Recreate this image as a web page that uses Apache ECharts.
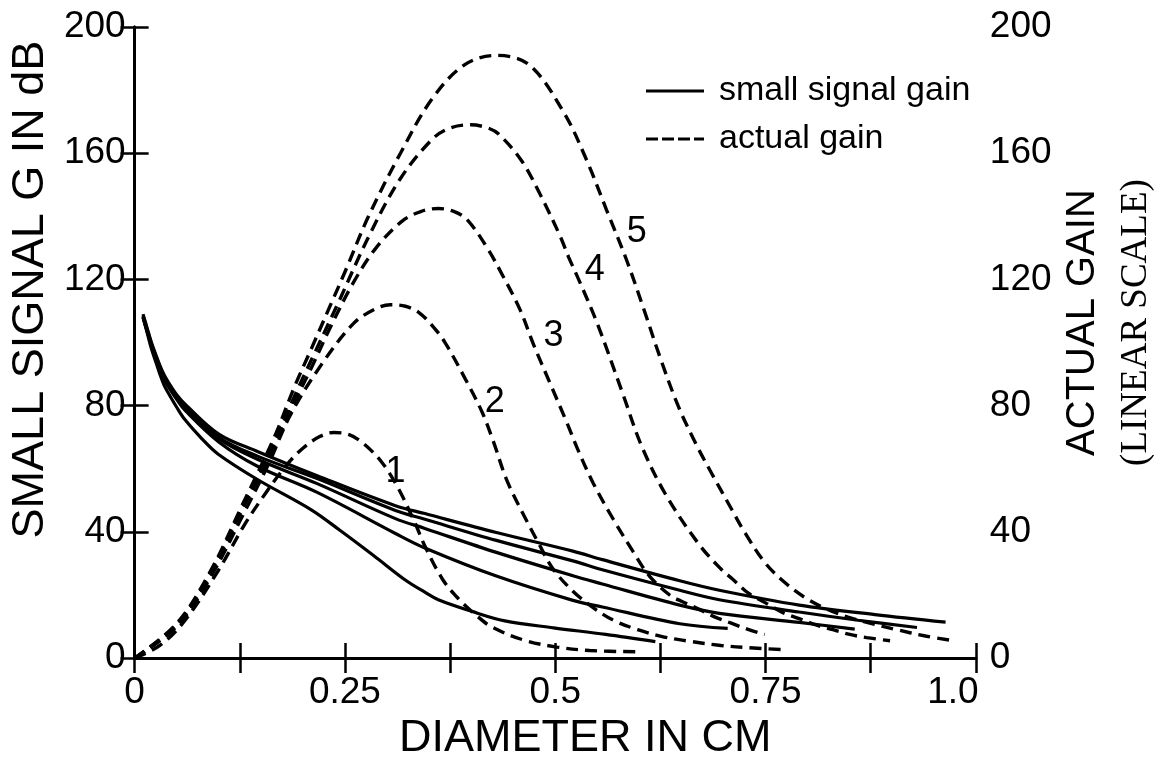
<!DOCTYPE html>
<html>
<head>
<meta charset="utf-8">
<script src="https://cdn.jsdelivr.net/npm/echarts@6/dist/echarts.min.js"></script>
<style>
  html, body { margin: 0; padding: 0; background: #ffffff; }
  #chart { width: 1163px; height: 766px; }
</style>
</head>
<body>
<div id="chart"></div>
<script>
// ---------- data ----------
const xTickValues = [0, 0.25, 0.5, 0.75, 1.0];
const xTickLabels = ['0', '0.25', '0.5', '0.75', '1.0'];

// small signal gain (solid), from lowest to highest curve
const small1 = [[0.01,108],[0.015,103],[0.02,98],[0.025,94],[0.03,90],[0.035,86.5],[0.04,84],[0.05,79.5],[0.06,75.5],[0.08,69.5],[0.099,64.7],[0.146,56.6],[0.21,47],[0.244,40.5],[0.284,32.5],[0.323,24.5],[0.345,20.9],[0.361,18.5],[0.401,14.8],[0.44,11.8],[0.498,9.6],[0.56,7.5],[0.619,5.2]];
const small2 = [[0.01,108],[0.015,103.5],[0.02,99],[0.025,95],[0.03,91.5],[0.035,88.5],[0.04,86],[0.05,82],[0.06,78.5],[0.1,68.5],[0.146,60.8],[0.217,52.5],[0.31,39.5],[0.345,34.9],[0.43,26],[0.521,18.3],[0.556,16.2],[0.648,10.9],[0.705,9.4]];
const small3 = [[0.01,108],[0.015,103.5],[0.02,99],[0.025,95.5],[0.03,92],[0.035,89],[0.04,86.5],[0.05,82.5],[0.06,79.5],[0.1,69.5],[0.146,63],[0.217,55.3],[0.31,44.2],[0.345,41.1],[0.43,33.5],[0.521,26.1],[0.556,23.5],[0.648,16.8],[0.695,14.2],[0.79,11.3],[0.856,9.2]];
const small4 = [[0.01,108.5],[0.015,104],[0.02,99.5],[0.025,95.8],[0.03,92.3],[0.035,89.3],[0.04,87],[0.05,83],[0.06,80],[0.1,70],[0.146,64],[0.217,56.9],[0.31,46.8],[0.345,44],[0.43,37.3],[0.521,30.8],[0.556,28],[0.648,21.5],[0.695,18.5],[0.79,14.6],[0.86,12],[0.93,9.7]];
const small5 = [[0.01,109],[0.015,104.5],[0.02,100],[0.025,96.3],[0.03,92.8],[0.035,89.8],[0.04,87.5],[0.05,83.5],[0.06,80.5],[0.1,71],[0.146,65.5],[0.217,57.8],[0.31,48.3],[0.345,45.8],[0.43,39.8],[0.521,33.9],[0.556,31.2],[0.648,24.5],[0.695,21.5],[0.79,16.8],[0.88,13.8],[0.964,11.4]];

// actual gain (dashed), curves 1..5
const actual1 = [[0,0],[0.03,4],[0.06,12],[0.1,28],[0.13,42],[0.155,52],[0.18,61],[0.2,66.5],[0.22,70.2],[0.237,71.5],[0.255,70.8],[0.272,68],[0.294,62],[0.313,54],[0.333,43],[0.345,35.5],[0.366,25],[0.385,18.8],[0.405,13.8],[0.425,9.8],[0.464,5.6],[0.502,3.5],[0.541,2.4],[0.6,2]];
const actual2 = [[0,0],[0.05,10],[0.09,25.5],[0.13,46],[0.16,62],[0.185,77],[0.222,93],[0.26,106],[0.285,110.5],[0.304,112],[0.322,111.5],[0.338,109.5],[0.355,105],[0.369,100],[0.393,88.5],[0.413,78],[0.426,69],[0.443,56],[0.467,43],[0.479,37],[0.497,28.4],[0.521,21.2],[0.545,16],[0.569,12],[0.598,9],[0.626,6.9],[0.658,5.4],[0.697,4],[0.73,3.3],[0.77,2.7]];
const actual3 = [[0,0],[0.05,10.5],[0.09,26.5],[0.127,46.5],[0.166,67],[0.19,81],[0.211,92.5],[0.233,105],[0.26,119],[0.287,130],[0.318,138.5],[0.34,141.5],[0.361,142.5],[0.38,141.5],[0.395,139],[0.418,130.5],[0.437,121.5],[0.458,110.5],[0.474,99.5],[0.494,87],[0.514,74.5],[0.527,66],[0.545,55.5],[0.569,44],[0.592,34],[0.612,26],[0.636,20],[0.65,18],[0.67,15.6],[0.69,13],[0.71,11],[0.73,9],[0.749,7.5]];
const actual4 = [[0,0],[0.05,10.5],[0.09,27],[0.127,47],[0.166,68],[0.19,83],[0.211,95],[0.241,112],[0.279,134],[0.316,152],[0.354,164.5],[0.375,168],[0.399,169],[0.42,168],[0.433,166],[0.46,157.6],[0.482,147],[0.506,133.6],[0.516,127],[0.527,120.5],[0.55,106],[0.58,84],[0.603,67],[0.632,51.5],[0.671,36],[0.696,28.5],[0.711,25],[0.73,20.5],[0.75,17.5],[0.77,14.5],[0.79,12.5],[0.81,10.5],[0.83,9],[0.85,7.5],[0.87,6.5],[0.898,5.5]];
const actual5 = [[0,0],[0.05,11],[0.09,27.5],[0.127,48],[0.166,70],[0.19,86],[0.21,98],[0.233,112],[0.251,123],[0.278,140],[0.316,160],[0.353,177],[0.392,188],[0.43,191],[0.469,188],[0.51,173],[0.537,158],[0.561,142],[0.585,126],[0.606,110],[0.625,95],[0.646,80],[0.667,68],[0.686,58.5],[0.71,47],[0.726,39.5],[0.75,30],[0.775,23.5],[0.798,19],[0.823,15.5],[0.848,13],[0.875,11],[0.906,9],[0.94,7],[0.976,5.4]];

// curve number labels
const curveLabelNames = ['1', '2', '3', '4', '5'];
const curveLabelX = [0.31, 0.428, 0.498, 0.547, 0.597];
const curveLabelY = [59, 81, 102, 123, 135];

// ---------- chart ----------
const FONT = '"Liberation Sans", Arial, sans-serif';
const SERIF = '"Liberation Serif", "DejaVu Serif", serif';
const smallSets = [small1, small2, small3, small4, small5];
const actualSets = [actual1, actual2, actual3, actual4, actual5];
const SOLID_ICON = 'path://M0,0H58V3H0Z';
const DASH_ICON = 'path://M0,0H12V3H0Z M16,0H28V3H16Z M32,0H44V3H32Z M48,0H58V3H48Z';

const series = [];
smallSets.forEach(function (d) {
  series.push({
    name: 'small signal gain', type: 'line', data: d, xAxisIndex: 0, yAxisIndex: 0,
    showSymbol: false, symbol: 'none', smooth: 0.35,
    lineStyle: { color: '#000', width: 3.2, type: 'solid' }, itemStyle: { color: '#000' },
    silent: true, z: 3
  });
});
actualSets.forEach(function (d) {
  series.push({
    name: 'actual gain', type: 'line', data: d, xAxisIndex: 0, yAxisIndex: 1,
    showSymbol: false, symbol: 'none', smooth: 0.35,
    lineStyle: { color: '#000', width: 3.4, type: [12, 7] }, itemStyle: { color: '#000' },
    silent: true, z: 3
  });
});
series.push({
  name: 'curve labels', type: 'scatter', xAxisIndex: 0, yAxisIndex: 0,
  data: curveLabelNames.map(function (n, i) { return { name: n, value: [curveLabelX[i], curveLabelY[i]] }; }),
  symbolSize: 0, itemStyle: { color: '#000', opacity: 1 }, silent: true, z: 5,
  label: { show: true, position: 'inside', formatter: '{b}', fontFamily: FONT, fontSize: 36,
           color: '#000', opacity: 1, textBorderWidth: 0, textShadowBlur: 0 }
});

const axisLineStyle = { color: '#000', width: 3 };
const tickStyle = { color: '#000', width: 2.5 };

const option = {
  animation: false,
  backgroundColor: '#ffffff',
  grid: { left: 126, right: 180, top: 27, bottom: 98, containLabel: false },
  legend: {
    data: [
      { name: 'small signal gain', icon: SOLID_ICON },
      { name: 'actual gain', icon: DASH_ICON }
    ],
    orient: 'vertical', left: 641, top: 69,
    itemWidth: 58, itemHeight: 3, itemGap: 14,
    itemStyle: { color: '#000', borderWidth: 0 },
    textStyle: { fontFamily: FONT, fontSize: 34, color: '#000', padding: [0, 0, 0, 10] },
    selectedMode: false
  },
  xAxis: [{
    type: 'value', position: 'bottom', min: 0, max: 1, interval: 0.125,
    name: 'DIAMETER IN CM', nameLocation: 'middle', nameGap: 46,
    nameTextStyle: { fontFamily: FONT, fontSize: 45, color: '#000', padding: [0, 0, 0, 60] },
    axisLine: { show: true, lineStyle: axisLineStyle },
    axisTick: { show: true, inside: true, length: 15, lineStyle: tickStyle },
    axisLabel: {
      show: true, margin: 16, fontFamily: FONT, fontSize: 37, color: '#000', showMaxLabel: true, showMinLabel: true,
      formatter: function (v) {
        for (let i = 0; i < xTickValues.length; i++) {
          if (Math.abs(v - xTickValues[i]) < 1e-6) {
            if (i === xTickValues.length - 1) return '{last|' + xTickLabels[i] + '}';
            return xTickLabels[i];
          }
        }
        return '';
      },
      rich: { last: { fontFamily: FONT, fontSize: 37, color: '#000', padding: [0, 46, 0, 0] } }
    },
    splitLine: { show: false }
  }, {
    type: 'value', position: 'top', min: 0, max: 1, interval: 0.125,
    axisLine: { show: true, lineStyle: axisLineStyle },
    axisTick: { show: true, inside: true, length: 15, lineStyle: tickStyle },
    axisLabel: { show: false },
    splitLine: { show: false }
  }],
  yAxis: [{
    type: 'value', position: 'left', min: 0, max: 200, interval: 40,
    name: 'SMALL SIGNAL G IN dB', nameLocation: 'middle', nameGap: 70,
    nameTextStyle: { fontFamily: FONT, fontSize: 45, color: '#000', padding: [0, 0, 0, 106] },
    axisLine: { show: true, lineStyle: axisLineStyle },
    axisTick: { show: true, inside: true, length: 14, lineStyle: tickStyle },
    axisLabel: { show: true, margin: 9, fontFamily: FONT, fontSize: 37, color: '#000' },
    splitLine: { show: false }
  }, {
    type: 'value', position: 'right', min: 0, max: 200, interval: 40,
    name: '{a|ACTUAL GAIN}\n{b|(LINEAR SCALE)}', nameLocation: 'middle', nameGap: 68,
    nameTextStyle: {
      color: '#000', padding: [0, 0, 0, 40],
      rich: {
        a: { fontFamily: FONT, fontSize: 40, color: '#000', lineHeight: 54 },
        b: { fontFamily: SERIF, fontSize: 37, color: '#000', lineHeight: 54 }
      }
    },
    axisLine: { show: true, lineStyle: axisLineStyle },
    axisTick: { show: true, inside: true, length: 14, lineStyle: tickStyle },
    axisLabel: { show: true, margin: 14, fontFamily: FONT, fontSize: 37, color: '#000' },
    splitLine: { show: false }
  }],
  series: series
};

const chart = echarts.init(document.getElementById('chart'), null, { renderer: 'canvas' });
chart.setOption(option);
</script>
</body>
</html>
